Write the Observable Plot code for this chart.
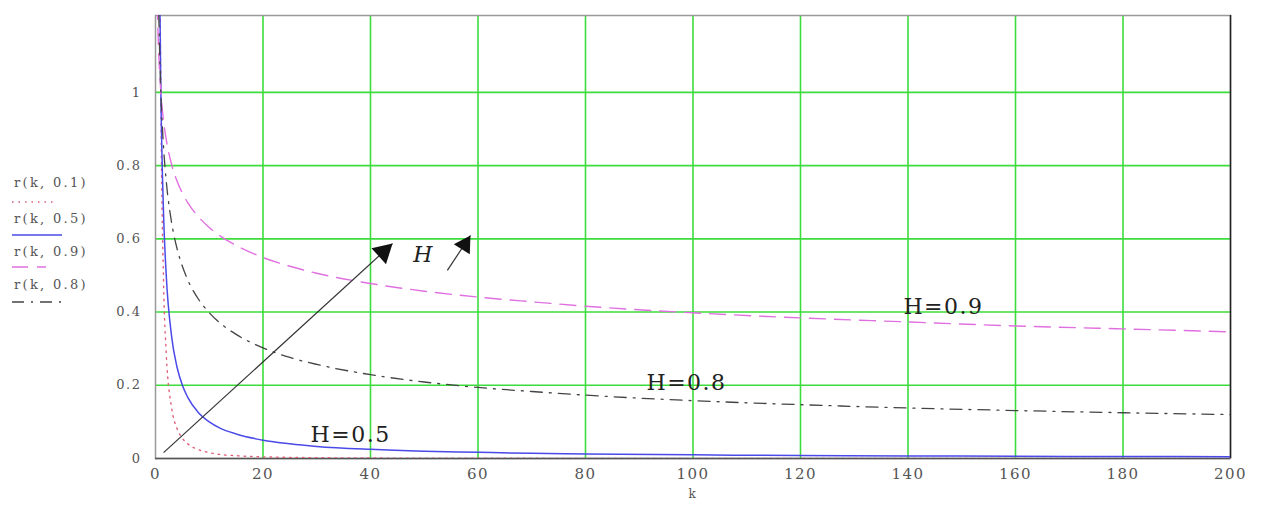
<!DOCTYPE html>
<html><head><meta charset="utf-8">
<script src="https://cdn.jsdelivr.net/npm/d3@7"></script>
<script src="https://cdn.jsdelivr.net/npm/@observablehq/plot@0.6"></script>
<style>
body{margin:0;background:#fff;}
#wrap{position:relative;width:1264px;height:506px;overflow:hidden;}
#wrap svg text{letter-spacing:1.5px;}
.lg{position:absolute;left:14px;font-family:"DejaVu Serif";font-size:13px;color:#555;letter-spacing:2.3px;line-height:14px;white-space:nowrap;}
.sw{position:absolute;left:12px;}
</style></head><body><div id="wrap"></div>
<script>
// k values (lag) and r(k, H)
const k   = [0.1, 0.2, 0.3, 0.5, 0.75, 1, 1.5, 2, 3, 4, 5, 6, 8, 10, 12, 15, 20, 25, 30, 40, 50, 60, 70, 80, 100, 120, 140, 160, 180, 200];
const r01 = [60, 18, 8.7, 3.48, 1.68, 1, 0.482, 0.287, 0.138, 0.082, 0.055, 0.040, 0.024, 0.016, 0.011, 0.0076, 0.0046, 0.003, 0.0022, 0.0013, 0.0009, 0.0006, 0.0005, 0.0004, 0.00025, 0.0002, 0.00014, 0.0001, 0.00009, 0.00007];
const r05 = [10, 5, 3.33, 2, 1.333, 1, 0.667, 0.5, 0.333, 0.25, 0.2, 0.167, 0.125, 0.1, 0.083, 0.067, 0.05, 0.04, 0.033, 0.025, 0.02, 0.017, 0.014, 0.0125, 0.01, 0.008, 0.007, 0.006, 0.0056, 0.005];
const r09 = [1.585, 1.38, 1.272, 1.149, 1.059, 1, 0.922, 0.871, 0.803, 0.758, 0.725, 0.699, 0.660, 0.631, 0.608, 0.582, 0.549, 0.525, 0.506, 0.478, 0.457, 0.441, 0.428, 0.416, 0.398, 0.384, 0.373, 0.362, 0.354, 0.346];
const r08 = [2.512, 1.904, 1.618, 1.32, 1.122, 1, 0.85, 0.758, 0.644, 0.574, 0.525, 0.488, 0.435, 0.398, 0.37, 0.339, 0.302, 0.276, 0.257, 0.229, 0.209, 0.194, 0.183, 0.173, 0.158, 0.147, 0.138, 0.131, 0.125, 0.12];

const legendLabels = ["r(k, 0.1)", "r(k, 0.5)", "r(k, 0.9)", "r(k, 0.8)"];
const xTicks = [0, 20, 40, 60, 80, 100, 120, 140, 160, 180, 200];
const yTicks = [0, 0.2, 0.4, 0.6, 0.8, 1];
const yTickLabels = ["0", "0.2", "0.4", "0.6", "0.8", "1"];

const curveLabels = ["H=0.5", "H=0.8", "H=0.9"];
const curveLabelX = [36.3, 98.8, 146.6];
const curveLabelY = [0.063, 0.205, 0.413];
// arrows (start k, start r, end k, end r)
const arrowX1 = [1.5, 54.3], arrowY1 = [0.016, 0.514];
const arrowX2 = [44.1, 58.6], arrowY2 = [0.587, 0.609];
const arrowLabel = "H", arrowLabelX = 49.9, arrowLabelY = 0.555;

const rows = (vals) => k.map((kk, i) => ({k: kk, r: vals[i]}));
const labels = curveLabels.map((t, i) => ({t, x: curveLabelX[i], y: curveLabelY[i]}));
const arrows = arrowX1.map((x1, i) => ({x1, y1: arrowY1[i], x2: arrowX2[i], y2: arrowY2[i]}));

const styles = [
  {vals: r01, stroke: "#e0607a", dash: "1.5,5", w: 1.4},
  {vals: r05, stroke: "#4a4ae8", dash: null, w: 1.5},
  {vals: r09, stroke: "#e070e0", dash: "16,9", w: 1.4},
  {vals: r08, stroke: "#444", dash: "12,7,2,7", w: 1.3}
];

const chart = Plot.plot({
  width: 1264, height: 506,
  marginLeft: 155, marginRight: 34, marginTop: 15, marginBottom: 48,
  style: {fontFamily: "DejaVu Serif", color: "#555", background: "#fff", overflow: "visible"},
  x: {domain: [0, 200]},
  y: {domain: [0, 1.21]},
  marks: [
    Plot.gridX(xTicks.slice(1, -1), {stroke: "#3ddc3d", strokeOpacity: 1, strokeWidth: 1.6}),
    Plot.gridY(yTicks.slice(1), {stroke: "#3ddc3d", strokeOpacity: 1, strokeWidth: 1.6}),
    Plot.frame({stroke: "#999", strokeWidth: 1.5}),
    Plot.ruleX([200], {stroke: "#222", strokeWidth: 1.5}),
    Plot.ruleY([0], {stroke: "#555", strokeWidth: 1.5}),
    ...styles.map(s => Plot.line(rows(s.vals), {x: "k", y: "r", stroke: s.stroke, strokeWidth: s.w, strokeDasharray: s.dash, curve: "monotone-x", clip: true})),
    Plot.axisX({ticks: xTicks, tickSize: 0, tickPadding: 10, fontSize: 15, label: null, fill: "#555"}),
    Plot.axisY({ticks: yTicks, tickFormat: (d, i) => yTickLabels[i], tickSize: 0, tickPadding: 14, fontSize: 13, label: null, fill: "#555"}),
    Plot.text(["k"], {frameAnchor: "bottom", dy: 39, fontSize: 12, fill: "#555"}),
    Plot.link(arrows, {x1: "x1", y1: "y1", x2: "x2", y2: "y2", stroke: "#333", strokeWidth: 1.2}),
    Plot.dot([arrows[0]], {x: "x2", y: "y2", symbol: "triangle", r: 8, fill: "#111", stroke: "none", rotate: 47.6, dx: -9.2, dy: 8.4}),
    Plot.dot([arrows[1]], {x: "x2", y: "y2", symbol: "triangle", r: 7, fill: "#111", stroke: "none", rotate: 32, dx: -5.8, dy: 9.2}),
    Plot.text(labels, {x: "x", y: "y", text: "t", fontSize: 22, fill: "#222"}),
    Plot.text([arrowLabel], {x: () => arrowLabelX, y: () => arrowLabelY, fontSize: 22, fontStyle: "italic", fill: "#222"})
  ]
});
const wrap = document.getElementById("wrap");
wrap.appendChild(chart);

// legend (left margin)
const itemTops = [176, 212, 245, 278];
const swTops = [202, 235, 267, 302];
const swW = [42, 50, 34, 50];
legendLabels.forEach((t, i) => {
  const d = document.createElement("div");
  d.className = "lg"; d.style.top = itemTops[i] + "px"; d.textContent = t;
  wrap.appendChild(d);
  const s = styles[i];
  const sv = d3.create("svg").attr("class", "sw").attr("width", swW[i]).attr("height", 4)
    .style("top", (swTops[i] - 2) + "px");
  sv.append("line").attr("x1", 0).attr("x2", swW[i]).attr("y1", 2).attr("y2", 2)
    .attr("stroke", s.stroke).attr("stroke-width", s.w).attr("stroke-dasharray", s.dash);
  wrap.appendChild(sv.node());
});
</script></body></html>
